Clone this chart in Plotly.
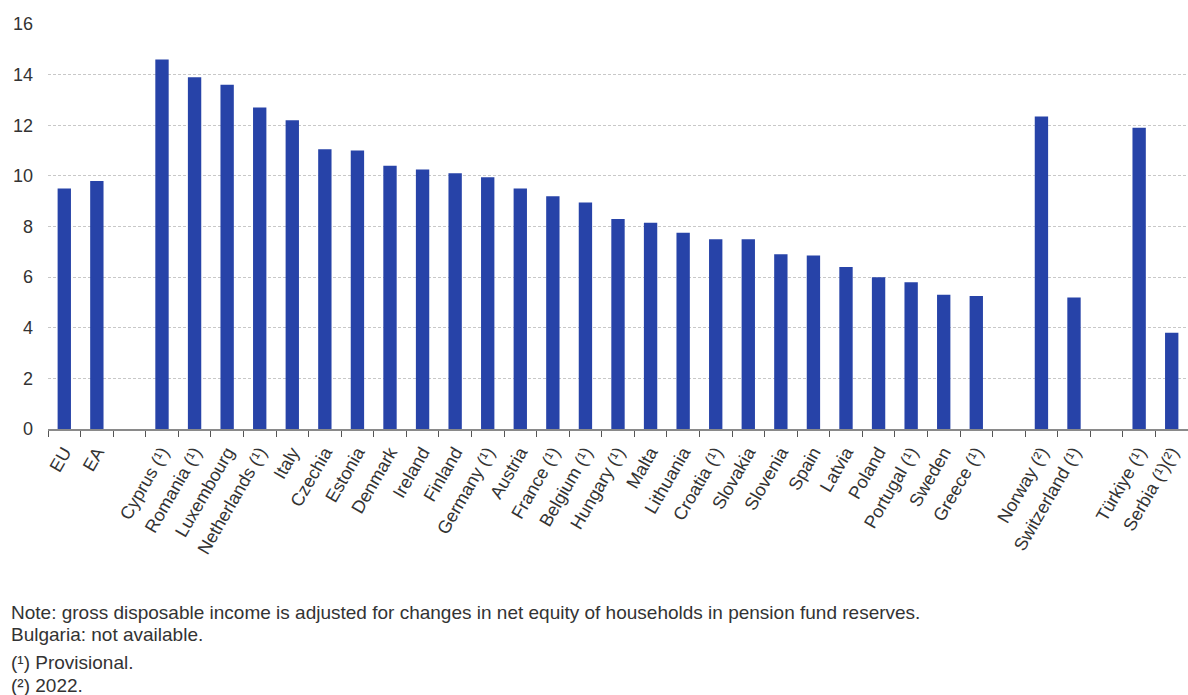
import plotly.graph_objects as go

categories = ["EU", "EA", " ",
              "Cyprus (¹)", "Romania (¹)", "Luxembourg", "Netherlands (¹)", "Italy",
              "Czechia", "Estonia", "Denmark", "Ireland", "Finland", "Germany (¹)",
              "Austria", "France (¹)", "Belgium (¹)", "Hungary (¹)", "Malta",
              "Lithuania", "Croatia (¹)", "Slovakia", "Slovenia", "Spain", "Latvia",
              "Poland", "Portugal (¹)", "Sweden", "Greece (¹)", "  ",
              "Norway (²)", "Switzerland (¹)", "   ",
              "Türkiye (¹)", "Serbia (¹)(²)"]
values = [9.5, 9.8, None,
          14.6, 13.9, 13.6, 12.7, 12.2,
          11.05, 11.0, 10.4, 10.25, 10.1, 9.95,
          9.5, 9.2, 8.95, 8.3, 8.15,
          7.75, 7.5, 7.5, 6.9, 6.85, 6.4,
          6.0, 5.8, 5.3, 5.25, None,
          12.35, 5.2, None,
          11.9, 3.8]
y_ticks = [0, 2, 4, 6, 8, 10, 12, 14, 16]
notes = ["Note: gross disposable income is adjusted for changes in net equity of households in pension fund reserves.",
         "Bulgaria: not available.",
         "(¹) Provisional.",
         "(²) 2022."]

fig = go.Figure(go.Bar(x=categories, y=values, marker_color="#2743A8",
                       marker_line_width=0, width=0.41))

fig.update_layout(
    width=1188, height=695,
    margin=dict(l=48, r=0, t=24, b=266),
    paper_bgcolor="white", plot_bgcolor="white",
    font=dict(family="Liberation Sans, Arial, sans-serif", size=18, color="#333333"),
    showlegend=False,
    bargap=0.59,
)
fig.update_xaxes(type="category", tickangle=-60, showline=True, linecolor="#8a8a8a",
                 linewidth=1.5, ticks="outside", ticklen=6, tickcolor="#555555",
                 tickson="boundaries", showgrid=False, ticklabelstandoff=4,
                 tickfont=dict(size=18, color="#333333"))
fig.update_yaxes(range=[0, 16], tickvals=y_ticks, showgrid=True, gridcolor="#c8c8c8",
                 griddash="3px,2px", gridwidth=1, zeroline=False, showline=False,
                 ticklabelstandoff=14, tickfont=dict(size=18, color="#333333"))

ys = [612, 634, 662, 685]
for t, yp in zip(notes, ys):
    fig.add_annotation(text=t, xref="paper", yref="paper", x=-48/1140, xshift=9,
                       y=(695 - 266 - yp) / 405, xanchor="left", yanchor="middle",
                       showarrow=False, font=dict(size=19, color="#333333"))

fig.write_html("out.html")
